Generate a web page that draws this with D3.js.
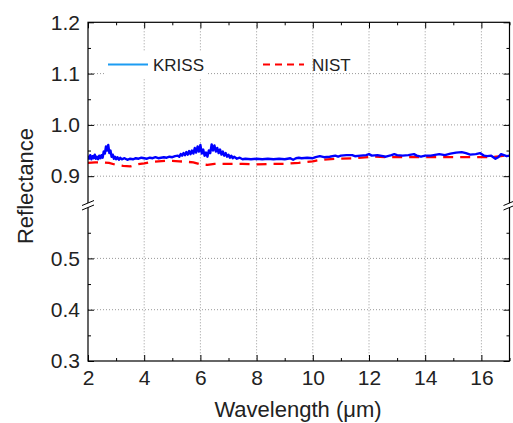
<!DOCTYPE html>
<meta charset="utf-8">
<style>
body { margin: 0; background: #fff; }
svg text { font-family: Arial, "Liberation Sans", sans-serif; fill: #222; }
.grid line { stroke: #999; stroke-dasharray: 1,2; }
.axis path, .axis line { stroke: #000; }
</style>
<body>
<script src="https://d3js.org/d3.v7.min.js"></script>
<script>

// data
var krissWl = [2.00,2.04,2.08,2.12,2.16,2.20,2.24,2.28,2.32,2.36,2.40,2.44,2.48,2.52,2.56,2.60,2.64,2.68,2.72,2.76,2.80,2.84,2.88,2.92,2.96,3.00,3.05,3.10,3.15,3.20,
  3.3,3.4,3.5,3.6,3.7,3.8,3.9,4.0,4.1,4.2,4.3,4.4,4.5,4.6,4.7,4.8,4.9,5.0,5.1,5.2,5.25,5.3,5.35,5.4,5.45,5.5,5.55,5.6,5.65,5.7,5.75,5.8,5.85,5.9,5.95,
  6.0,6.05,6.1,6.15,6.2,6.25,6.3,6.35,6.4,6.45,6.5,6.55,6.6,6.65,6.7,6.75,6.8,6.85,6.9,6.95,7.0,7.05,7.1,7.15,7.2,7.3,7.4,7.5,7.6,7.8,8.0,8.2,8.4,8.6,8.8,
  9.0,9.2,9.3,9.4,9.5,9.6,9.8,10.0,10.1,10.25,10.4,10.6,10.8,10.9,11.0,11.2,11.4,11.5,11.7,11.9,12.0,12.1,12.3,12.5,12.6,12.8,12.9,13.0,13.2,13.4,13.6,13.7,
  13.85,14.0,14.2,14.4,14.5,14.7,14.9,15.1,15.3,15.45,15.6,15.8,15.95,16.1,16.2,16.35,16.5,16.6,16.7,16.8,16.9,17.0];
var krissR = [0.940,0.934,0.941,0.933,0.939,0.935,0.942,0.934,0.938,0.933,0.940,0.935,0.941,0.936,0.948,0.944,0.958,0.950,0.961,0.945,0.950,0.938,0.942,0.934,0.938,0.933,0.937,0.932,0.936,0.933,
  0.935,0.932,0.934,0.933,0.935,0.934,0.936,0.935,0.934,0.936,0.935,0.937,0.935,0.936,0.937,0.936,0.938,0.937,0.939,0.940,0.938,0.943,0.940,0.945,0.941,0.947,0.942,0.949,0.943,0.950,0.944,0.955,0.946,0.958,0.948,
  0.961,0.944,0.952,0.940,0.946,0.938,0.950,0.945,0.962,0.950,0.960,0.948,0.955,0.945,0.952,0.942,0.948,0.940,0.945,0.938,0.942,0.936,0.940,0.935,0.938,0.934,0.936,0.933,0.934,0.933,0.934,0.933,0.934,0.933,0.934,
  0.933,0.935,0.932,0.935,0.936,0.935,0.936,0.935,0.937,0.939,0.937,0.938,0.940,0.938,0.940,0.941,0.941,0.939,0.940,0.941,0.943,0.940,0.941,0.939,0.938,0.941,0.943,0.941,0.940,0.941,0.943,0.940,
  0.938,0.940,0.940,0.942,0.943,0.941,0.944,0.946,0.947,0.945,0.942,0.943,0.945,0.940,0.939,0.940,0.934,0.937,0.943,0.941,0.939,0.940];

var nistWl = [2.0,2.25,2.5,2.75,3.0,3.25,3.5,3.75,4.0,4.25,4.5,4.75,5.0,5.25,5.5,5.75,6.0,6.25,6.5,7.0,7.5,8.0,8.5,9.0,9.5,10.0,10.3,10.8,11.5,12.2,12.7,13.5,14.5,15.5,16.3,16.7,17.0];
var nistR = [0.926,0.927,0.927,0.926,0.922,0.920,0.919,0.923,0.925,0.928,0.929,0.930,0.930,0.929,0.928,0.927,0.923,0.922,0.924,0.924,0.924,0.923,0.924,0.924,0.926,0.929,0.932,0.934,0.935,0.938,0.937,0.937,0.937,0.937,0.937,0.939,0.942];

var xMajor = [2,4,6,8,10,12,14,16];
var xMinor = [3,5,7,9,11,13,15,17];
var yTopMajor = [0.9,1.0,1.1,1.2];
var yTopMinor = [0.95,1.05,1.15];
var yBotMajor = [0.3,0.4,0.5];
var yBotMinor = [0.35,0.45,0.55];

var W = 513, H = 423;
var pL = 88, pR = 509.5, pT = 22.3, pB = 361;

var svg = d3.select("body").append("svg").attr("width", W).attr("height", H);

var x = d3.scaleLinear().domain([2,17]).range([pL, pR]);
// broken y axis: two segments
var yTop = d3.scaleLinear().domain([0.845,1.2]).range([204.4, pT]);
var yBot = d3.scaleLinear().domain([0.3,0.6]).range([pB, 207.1]);

// grid
var grid = svg.append("g").attr("class", "grid");
grid.selectAll(".gx").data(xMajor.slice(1)).enter().append("line")
  .attr("x1", d => x(d)).attr("x2", d => x(d)).attr("y1", pT).attr("y2", pB);
grid.selectAll(".gyt").data([0.9,1.0,1.1]).enter().append("line")
  .attr("x1", pL).attr("x2", pR).attr("y1", d => yTop(d)).attr("y2", d => yTop(d));
grid.selectAll(".gyb").data([0.4,0.5]).enter().append("line")
  .attr("x1", pL).attr("x2", pR).attr("y1", d => yBot(d)).attr("y2", d => yBot(d));

// data lines
svg.append("clipPath").attr("id", "clip").append("rect")
  .attr("x", pL).attr("y", pT).attr("width", pR - pL).attr("height", pB - pT);

var line = d3.line().x(d => x(d[0])).y(d => yTop(d[1]));

svg.append("path")
  .datum(d3.zip(nistWl, nistR))
  .attr("clip-path", "url(#clip)")
  .attr("d", line)
  .attr("fill", "none").attr("stroke", "#ff0000").attr("stroke-width", 2.3)
  .attr("stroke-dasharray", "10,7");

svg.append("path")
  .datum(d3.zip(krissWl, krissR))
  .attr("clip-path", "url(#clip)")
  .attr("d", line)
  .attr("fill", "none").attr("stroke", "#0000ff").attr("stroke-width", 2.4)
  .attr("stroke-linejoin", "round");

// frame
svg.append("rect").attr("x", pL).attr("y", pT).attr("width", pR - pL).attr("height", pB - pT)
  .attr("fill", "none").attr("stroke", "#000").attr("stroke-width", 1.2);

// axes
function noDomain(g) { g.select(".domain").remove(); }
var fs = "21px";

var bx = svg.append("g").attr("class", "axis").attr("transform", "translate(0," + pB + ")")
  .call(d3.axisBottom(x).tickValues(xMajor).tickSize(-6).tickPadding(9).tickFormat(d3.format("d")))
  .call(noDomain);
bx.selectAll("text").style("font-size", fs).attr("dy", "0.71em");
svg.append("g").attr("class", "axis").attr("transform", "translate(0," + pB + ")")
  .call(d3.axisBottom(x).tickValues(xMinor).tickSize(-3).tickFormat(""))
  .call(noDomain);
svg.append("g").attr("class", "axis").attr("transform", "translate(0," + pT + ")")
  .call(d3.axisTop(x).tickValues(xMajor).tickSize(-6).tickFormat(""))
  .call(noDomain);
svg.append("g").attr("class", "axis").attr("transform", "translate(0," + pT + ")")
  .call(d3.axisTop(x).tickValues(xMinor).tickSize(-3).tickFormat(""))
  .call(noDomain);

[[yTop, yTopMajor, yTopMinor], [yBot, yBotMajor, yBotMinor]].forEach(function (s) {
  var ly = svg.append("g").attr("class", "axis").attr("transform", "translate(" + pL + ",0)")
    .call(d3.axisLeft(s[0]).tickValues(s[1]).tickSize(-6).tickPadding(8).tickFormat(d3.format(".1f")))
    .call(noDomain);
  ly.selectAll("text").style("font-size", fs);
  svg.append("g").attr("class", "axis").attr("transform", "translate(" + pL + ",0)")
    .call(d3.axisLeft(s[0]).tickValues(s[2]).tickSize(-3).tickFormat(""))
    .call(noDomain);
  svg.append("g").attr("class", "axis").attr("transform", "translate(" + pR + ",0)")
    .call(d3.axisRight(s[0]).tickValues(s[1]).tickSize(-6).tickFormat(""))
    .call(noDomain);
  svg.append("g").attr("class", "axis").attr("transform", "translate(" + pR + ",0)")
    .call(d3.axisRight(s[0]).tickValues(s[2]).tickSize(-3).tickFormat(""))
    .call(noDomain);
});

// break marks on both vertical axes
[pL, pR].forEach(function (ax) {
  svg.append("polygon")
    .attr("points", [[ax - 6, 205.5], [ax + 6, 200.5], [ax + 6, 205], [ax - 6, 210]].map(p => p.join(",")).join(" "))
    .attr("fill", "#fff");
  svg.append("line").attr("x1", ax - 6).attr("y1", 205.5).attr("x2", ax + 6).attr("y2", 200.5)
    .attr("stroke", "#000").attr("stroke-width", 1);
  svg.append("line").attr("x1", ax - 6).attr("y1", 210).attr("x2", ax + 6).attr("y2", 205)
    .attr("stroke", "#000").attr("stroke-width", 1);
});

// axis titles
svg.append("text").attr("x", 298).attr("y", 417)
  .attr("text-anchor", "middle").style("font-size", "22px").text("Wavelength (\u03bcm)");
svg.append("text").attr("transform", "translate(33,186) rotate(-90)")
  .attr("text-anchor", "middle").style("font-size", "22px").text("Reflectance");

// legend
var lg = svg.append("g");
lg.append("rect").attr("x", 105).attr("y", 52).attr("width", 103).attr("height", 26).attr("fill", "#fff");
lg.append("line").attr("x1", 108).attr("x2", 148).attr("y1", 64.5).attr("y2", 64.5)
  .attr("stroke", "#1c9cf2").attr("stroke-width", 2);
lg.append("text").attr("x", 153).attr("y", 70.5).style("font-size", "17px").text("KRISS");
lg.append("line").attr("x1", 263).attr("x2", 304).attr("y1", 64.5).attr("y2", 64.5)
  .attr("stroke", "#ff0000").attr("stroke-width", 2).attr("stroke-dasharray", "7,5");
lg.append("text").attr("x", 312).attr("y", 70.5).style("font-size", "17px").text("NIST");

</script>
</body>
